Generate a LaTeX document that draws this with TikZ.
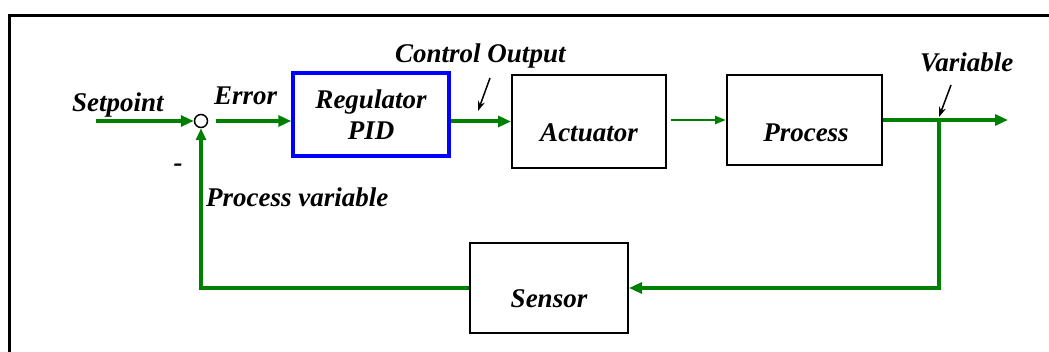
\documentclass[tikz,border=0pt]{standalone}
\usepackage{fontspec}
\setmainfont{Liberation Serif}
\usetikzlibrary{arrows.meta}
\definecolor{fgreen}{RGB}{0,128,0}
\begin{document}
\begin{tikzpicture}[x=1pt,y=-1pt,
  txt/.style={font=\fontsize{27}{30}\selectfont\bfseries\itshape, inner sep=0pt},
  lbl/.style={txt, anchor=base west},
  ctr/.style={txt, anchor=base},
  blk/.style={draw=black, line width=2pt, inner sep=0pt},
  sig/.style={draw=fgreen, line width=4pt, -{Triangle[length=13pt,width=11pt]}},
  thinsig/.style={draw=fgreen, line width=2.4pt, -{Triangle[length=11pt,width=8pt]}},
  fb/.style={draw=fgreen, line width=3.2pt},
  note/.style={draw=black, line width=1.5pt, -{Stealth[length=10pt,width=7pt]}}]
\useasboundingbox (0,0) rectangle (1049,352);
% frame
\draw[line width=3pt] (9.5,352) -- (9.5,16) -- (1049,16);
% blocks
\node[draw=blue, line width=3.5pt, inner sep=0pt, minimum width=156pt, minimum height=83pt] (reg) at (371,114.5) {};
\node[blk, minimum width=154pt, minimum height=93pt] (act) at (589,121.5) {};
\node[blk, minimum width=155pt, minimum height=90pt] (proc) at (804.5,120) {};
\node[blk, minimum width=158pt, minimum height=90pt] (sens) at (549,288) {};
\node[draw=black, line width=1.5pt, circle, minimum size=13pt, inner sep=0pt] (sum) at (201,121) {};
% block texts
\node[ctr] (tReg) at (371,109) {Regulator};
\node[ctr] (tPid) at (371,140) {PID};
\node[ctr] (tAct) at (589,142) {Actuator};
\node[ctr] (tProc) at (806,142) {Process};
\node[ctr] (tSens) at (549,308) {Sensor};
% labels
\node[lbl] (lSp) at (72,112) {Setpoint};
\node[lbl] (lErr) at (214,105) {Error};
\node[lbl] (lCo) at (395,63) {Control Output};
\node[lbl] (lVar) at (920,72) {Variable};
\node[lbl] (lPv) at (206,207) {Process variable};
\node[ctr] (lMinus) at (178,172) {-};
% coordinates
\coordinate (sp) at (96,121);
\coordinate (out) at (1008,120);
\coordinate (br) at (939,120);
\coordinate (coA) at (490,78);
\coordinate (coB) at (478,111);
\coordinate (vaA) at (951,85);
\coordinate (vaB) at (939,117);
% signals
\draw[sig] (sp) -- (sum.west);
\draw[sig, shorten <=8pt] (sum.east) -- (reg.west |- sum.east);
\draw[sig] (reg.east |- act.west) -- (act.west);
\draw[thinsig, shorten <=4pt] (act.east |- proc.west) -- (proc.west);
\draw[sig] (proc.east) -- (out);
\draw[fb, -{Triangle[length=13pt,width=11pt]}] (br) |- (sens.east);
\draw[fb, -{Triangle[length=12pt,width=10pt]}] (sens.west) -| (sum.south);
% annotation arrows
\draw[note] (coA) -- (coB);
\draw[note] (vaA) -- (vaB);
\end{tikzpicture}
\end{document}
